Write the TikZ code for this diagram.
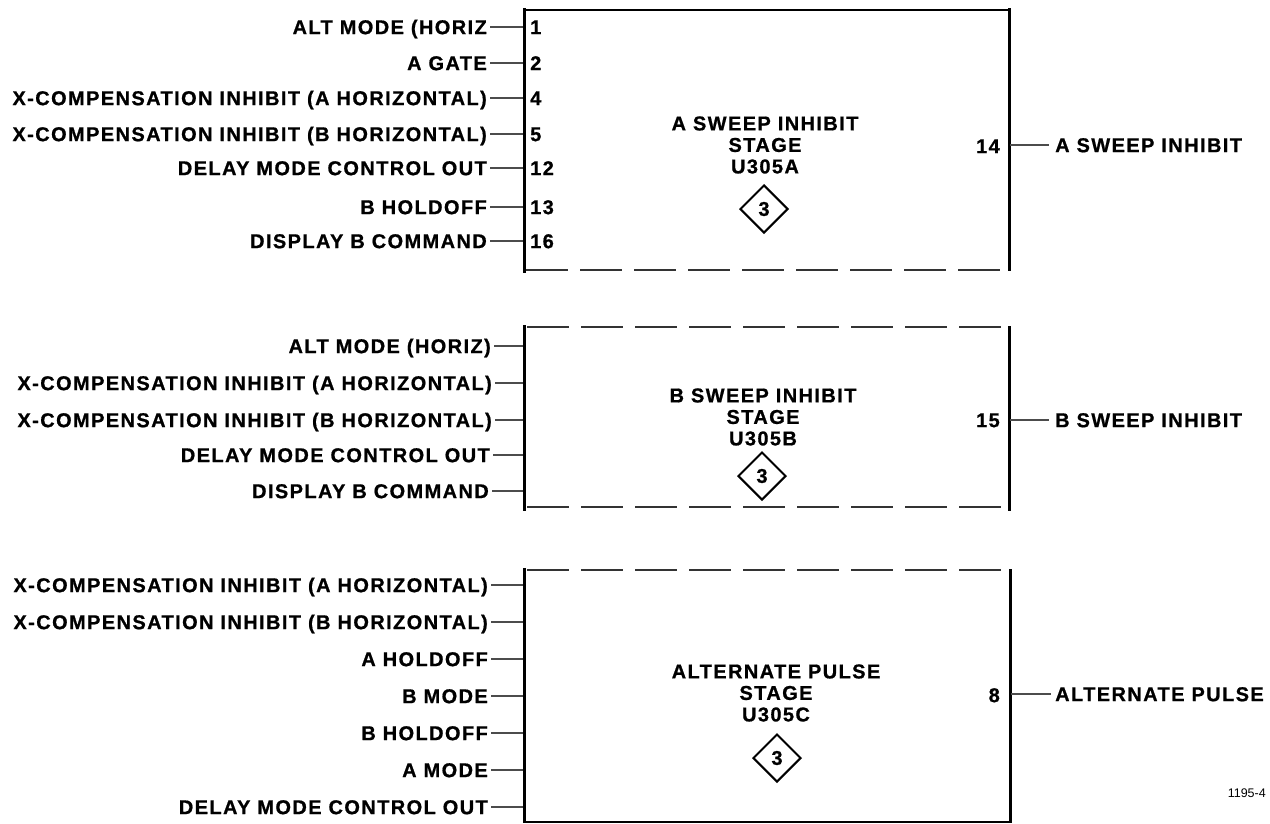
\documentclass[tikz,border=0pt]{standalone}
\usepackage{fontspec}
\setmainfont{Liberation Sans}[LetterSpace=7,BoldFeatures={FakeBold=0.8}]
\newfontfamily\plainfont{Liberation Sans}
\usetikzlibrary{shapes.geometric}
\newcommand\labfont{\fontsize{20}{21.5}\selectfont\bfseries}
\begin{document}
\begin{tikzpicture}[x=1pt,y=-1pt,
  edge/.style={line width=3pt,black},
  topedge/.style={line width=2pt,black},
  dashedge/.style={line width=2.5pt,black!80,dash pattern=on 42pt off 12pt},
  lead/.style={line width=1.2pt,black!70},
  lbl/.style={font=\labfont,inner sep=0pt,anchor=east,text height=14.3pt,text depth=0pt},
  pinno/.style={font=\labfont,inner sep=0pt,text height=14.3pt,text depth=0pt},
  title/.style={font=\labfont,align=center,inner sep=0pt},
  diam/.style={diamond,draw,line width=2pt,minimum width=48pt,minimum height=48pt,inner sep=0pt,font=\labfont}]
\useasboundingbox (0,0) rectangle (1270,823);

% ---------- Box A ----------
\coordinate (A1) at (524,8);
\coordinate (A2) at (1009,8);
\coordinate (A3) at (1009,271);
\coordinate (A4) at (524,273);
\draw[edge] (A1) -- (A4);
\draw[topedge] (524,10) -- (1009,10);
\draw[edge] (A2) -- (A3);
\draw[dashedge] (526,270) -- (1004,270);

\foreach \y/\t/\n [count=\i] in {27/ALT MODE (HORIZ/1, 63/A GATE/2, 98/X-COMPENSATION INHIBIT (A HORIZONTAL)/4, 134/X-COMPENSATION INHIBIT (B HORIZONTAL)/5, 168/DELAY MODE CONTROL OUT/12, 207/B HOLDOFF/13, 241/DISPLAY B COMMAND/16}{
  \node[lbl] (aL\i) at (487,\y) {\t};
  \coordinate (aP\i) at (523,\y);
  \node[pinno,anchor=west] (aN\i) at (530,\y) {\n};
  \draw[lead] ([xshift=3pt]aL\i.east) -- (aP\i);
}
\node[title] (aT) at (765,145) {A SWEEP INHIBIT\\STAGE\\U305A};
\node[diam] (aD) at (764,209) {3};
\node[pinno,anchor=east] (aO) at (1000,146) {14};
\coordinate (aR) at (1010,145);
\node[lbl,anchor=west] (aOut) at (1055,145) {A SWEEP INHIBIT};
\draw[lead] (aR) -- ([xshift=-6pt]aOut.west);

% ---------- Box B ----------
\coordinate (B1) at (524,325);
\coordinate (B2) at (1009,326);
\coordinate (B3) at (1009,511);
\coordinate (B4) at (524,511);
\draw[edge] (B1) -- (B4);
\draw[edge] (B2) -- (B3);
\draw[dashedge] (527,327) -- (1005,327);
\draw[dashedge] (527,507) -- (1005,507);

\foreach \y [count=\i] in {346,383,420,455,491}{
  \coordinate (bP\i) at (523,\y);
}
\node[lbl] (bL1) at (491,346) {ALT MODE (HORIZ)};
\node[lbl] (bL2) at (492,383) {X-COMPENSATION INHIBIT (A HORIZONTAL)};
\node[lbl] (bL3) at (492,420) {X-COMPENSATION INHIBIT (B HORIZONTAL)};
\node[lbl] (bL4) at (490,455) {DELAY MODE CONTROL OUT};
\node[lbl] (bL5) at (489,491) {DISPLAY B COMMAND};
\foreach \i in {1,...,5}{
  \draw[lead] ([xshift=3pt]bL\i.east) -- (bP\i);
}
\node[title] (bT) at (763,417) {B SWEEP INHIBIT\\STAGE\\U305B};
\node[diam] (bD) at (762,476) {3};
\node[pinno,anchor=east] (bO) at (1000,420) {15};
\coordinate (bR) at (1010,420);
\node[lbl,anchor=west] (bOut) at (1055,420) {B SWEEP INHIBIT};
\draw[lead] (bR) -- ([xshift=-6pt]bOut.west);

% ---------- Box C ----------
\coordinate (C1) at (524,568);
\coordinate (C2) at (1010,569);
\coordinate (C3) at (1010,823);
\coordinate (C4) at (524,823);
\draw[edge] (C1) -- (C4);
\draw[edge] (C2) -- (C3);
\draw[topedge] (524,822) -- (1010,822);
\draw[dashedge] (527,570) -- (1005,570);

\foreach \y/\t [count=\i] in {585/X-COMPENSATION INHIBIT (A HORIZONTAL), 622/X-COMPENSATION INHIBIT (B HORIZONTAL), 659/A HOLDOFF, 696/B MODE, 733/B HOLDOFF, 770/A MODE, 807/DELAY MODE CONTROL OUT}{
  \node[lbl] (cL\i) at (488,\y) {\t};
  \coordinate (cP\i) at (523,\y);
  \draw[lead] ([xshift=3pt]cL\i.east) -- (cP\i);
}
\node[title] (cT) at (776,693) {ALTERNATE PULSE\\STAGE\\U305C};
\node[diam] (cD) at (777,758) {3};
\node[pinno,anchor=east] (cO) at (1000,695) {8};
\coordinate (cR) at (1011,694);
\node[lbl,anchor=west] (cOut) at (1055,694) {ALTERNATE PULSE};
\draw[lead] (cR) -- ([xshift=-4pt]cOut.west);

\node[font=\plainfont\fontsize{12.5}{14}\selectfont,anchor=east,inner sep=0pt] (fig) at (1266,793) {1195-4};
\end{tikzpicture}
\end{document}
